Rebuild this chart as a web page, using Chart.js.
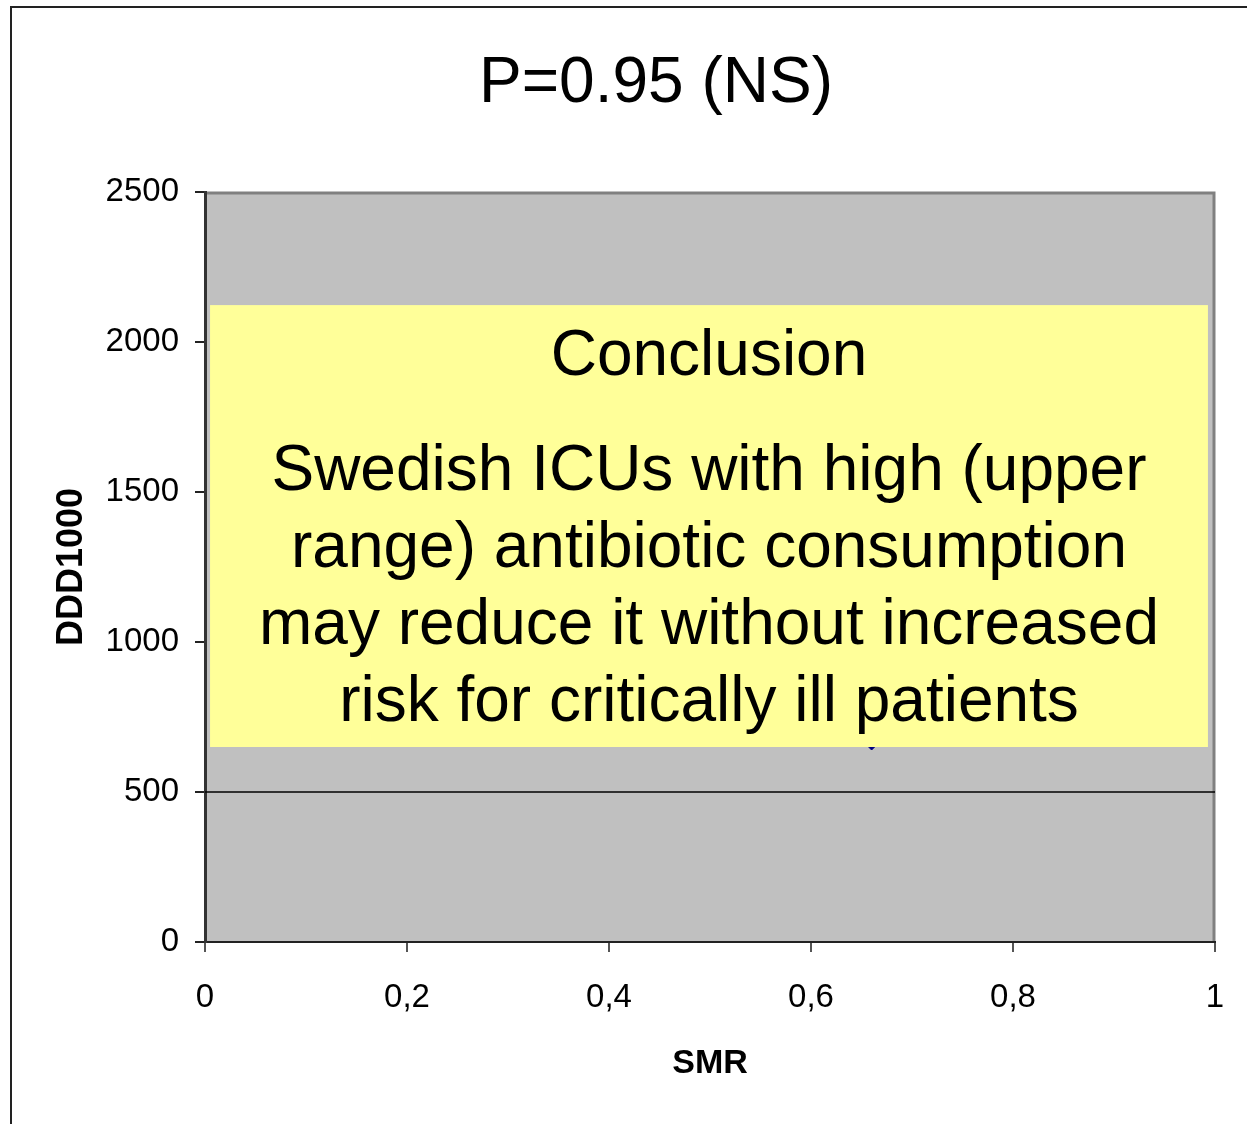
<!DOCTYPE html>
<html>
<head>
<meta charset="utf-8">
<script src="https://cdn.jsdelivr.net/npm/chart.js@4.4.1/dist/chart.umd.min.js"></script>
<style>
  html, body { margin: 0; padding: 0; background: #fff; }
  #wrap { position: relative; width: 1247px; height: 1124px; }
</style>
</head>
<body>
<div id="wrap"><canvas id="chart" width="1247" height="1124"></canvas></div>
<script>
// Chart data
const xTicks = [0, 0.2, 0.4, 0.6, 0.8, 1];
const yTicks = [0, 500, 1000, 1500, 2000, 2500];

// visible ICU point (the rest sit behind the conclusion box)
const icuSMR = [0.66];
const icuDDD = [660];

// flat regression line
const trendX = [0, 1];
const trendY = [500, 500];

const titleText = "P=0.95 (NS)";
const boxHeading = "Conclusion";
const boxLines = [
    "Swedish ICUs with high (upper",
    "range) antibiotic consumption",
    "may reduce it without increased",
    "risk for critically ill patients"
];

const FONT = "'Liberation Sans', Arial, sans-serif";

const decoPlugin = {
    id: "deco",
    beforeDraw(chart) {
        const ctx = chart.ctx;
        const a = chart.chartArea;
        ctx.save();
        ctx.fillStyle = "#fff";
        ctx.fillRect(0, 0, chart.width, chart.height);
        // outer frame (left + top)
        ctx.strokeStyle = "#222";
        ctx.lineWidth = 2;
        ctx.beginPath();
        ctx.moveTo(11, chart.height);
        ctx.lineTo(11, 7);
        ctx.lineTo(chart.width, 7);
        ctx.stroke();
        // plot area
        ctx.fillStyle = "#c0c0c0";
        ctx.fillRect(a.left, a.top, a.right - a.left, a.bottom - a.top);
        ctx.strokeStyle = "#808080";
        ctx.lineWidth = 3;
        ctx.beginPath();
        ctx.moveTo(a.left, a.top + 1);
        ctx.lineTo(a.right - 1, a.top + 1);
        ctx.lineTo(a.right - 1, a.bottom);
        ctx.stroke();
        // title
        ctx.fillStyle = "#000";
        ctx.font = "64px " + FONT;
        ctx.textAlign = "center";
        ctx.textBaseline = "middle";
        ctx.fillText(titleText, 656, 84);
        ctx.restore();
    },
    afterDatasetsDraw(chart) {
        const ctx = chart.ctx;
        const xs = chart.scales.x;
        const ys = chart.scales.y;
        const left = xs.getPixelForValue(0.005);
        const right = xs.getPixelForValue(0.993);
        const top = ys.getPixelForValue(2123);
        const bottom = ys.getPixelForValue(650);
        ctx.save();
        ctx.fillStyle = "#ffff99";
        ctx.fillRect(left, top, right - left, bottom - top);
        ctx.fillStyle = "#000";
        ctx.font = "64px " + FONT;
        ctx.textAlign = "center";
        ctx.textBaseline = "middle";
        const cx = (left + right) / 2;
        ctx.fillText(boxHeading, cx, 357);
        boxLines.forEach((line, i) => {
            ctx.fillText(line, cx, 472 + i * 77);
        });
        ctx.restore();
    }
};

new Chart(document.getElementById("chart"), {
    data: {
        datasets: [
            {
                type: "line",
                label: "Trend",
                data: trendX.map((x, i) => ({ x: x, y: trendY[i] })),
                borderColor: "#000",
                borderWidth: 1.5,
                pointRadius: 0,
                fill: false
            },
            {
                type: "scatter",
                label: "ICU",
                data: icuSMR.map((x, i) => ({ x: x, y: icuDDD[i] })),
                pointStyle: "rectRot",
                pointRadius: 6,
                backgroundColor: "#000080",
                borderColor: "#000080"
            }
        ]
    },
    options: {
        responsive: false,
        animation: false,
        layout: { padding: { top: 192, right: 32, bottom: 0, left: 0 } },
        plugins: {
            legend: { display: false },
            tooltip: { enabled: false }
        },
        scales: {
            x: {
                type: "linear",
                min: 0,
                max: 1,
                afterBuildTicks: s => { s.ticks = xTicks.map(v => ({ value: v })); },
                afterFit: s => { s.height = 182; s.paddingLeft = 0; s.paddingRight = 0; },
                ticks: {
                    color: "#000",
                    font: { family: FONT, size: 33 },
                    padding: 26,
                    maxRotation: 0,
                    callback: v => String(v).replace(".", ",")
                },
                grid: { drawOnChartArea: false, drawTicks: true, tickLength: 10, color: "#555", lineWidth: 2 },
                border: { display: true, color: "#222", width: 2 },
                title: {
                    display: true,
                    text: "SMR",
                    color: "#000",
                    font: { family: FONT, size: 34, weight: "bold" },
                    padding: { top: 0, bottom: 40 }
                }
            },
            y: {
                type: "linear",
                min: 0,
                max: 2500,
                afterBuildTicks: s => { s.ticks = yTicks.map(v => ({ value: v })); },
                afterFit: s => { s.width = 205; },
                ticks: {
                    color: "#000",
                    font: { family: FONT, size: 33 },
                    padding: 16,
                    callback: v => String(v)
                },
                grid: { drawOnChartArea: false, drawTicks: true, tickLength: 10, color: "#222", lineWidth: 2 },
                border: { display: true, color: "#333", width: 3 },
                title: {
                    display: true,
                    text: "DDD1000",
                    color: "#000",
                    font: { family: FONT, size: 36, weight: "bold" },
                    padding: { top: 50, bottom: 0 }
                }
            }
        }
    },
    plugins: [decoPlugin]
});
</script>
</body>
</html>
